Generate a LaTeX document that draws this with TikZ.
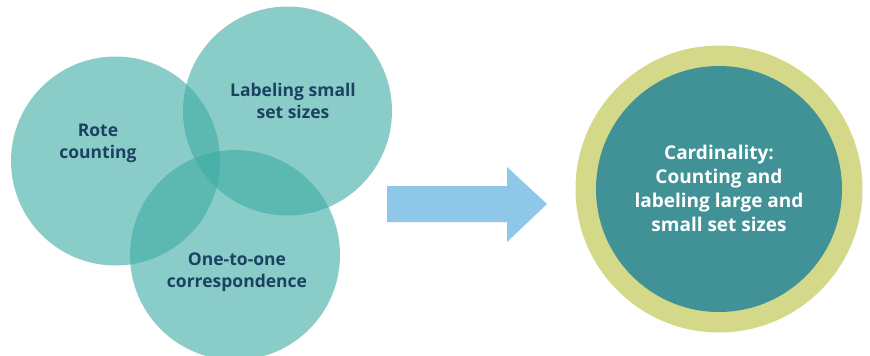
\documentclass[tikz,border=0pt]{standalone}
\usepackage{fontspec}
\setmainfont{Open Sans}
\definecolor{venn}{RGB}{60,172,163}
\definecolor{navy}{RGB}{28,66,98}
\definecolor{ringc}{RGB}{212,217,138}
\definecolor{corec}{RGB}{64,146,150}
\definecolor{arrowc}{RGB}{143,199,232}
\tikzset{
  venncircle/.style={circle, fill=venn, fill opacity=0.6, draw=none, minimum size=#1, inner sep=0pt},
  venntext/.style={text=navy, font=\bfseries\fontsize{17.5}{22}\selectfont, align=center, text opacity=1},
  ringcircle/.style={circle, fill=ringc, draw=none, minimum size=287pt, inner sep=0pt},
  corecircle/.style={circle, fill=corec, draw=none, minimum size=246pt, inner sep=0pt},
  coretext/.style={text=white, font=\bfseries\fontsize{19}{24}\selectfont, align=center},
  bigarrow/.style={fill=arrowc, draw=none}
}
\begin{document}
\begin{tikzpicture}[x=1pt,y=-1pt]
\useasboundingbox (0,0) rectangle (870,356);
\node[venncircle=209pt] (rote) at (115.5,161) {};
\node[venncircle=209pt] (label) at (287.5,111) {};
\node[venncircle=210pt] (one) at (235,255) {};
\node[venntext] (rotet) at (98,143) {Rote\\counting};
\node[venntext] (labelt) at (293,101) {Labeling small\\set sizes};
\node[venntext] (onet) at (237,272) {One-to-one\\correspondence};
\fill[bigarrow] (387,186) -- (507,186) -- (507,167) -- (547,204) -- (507,242) -- (507,222) -- (387,222) -- cycle;
\node[ringcircle] (ring) at (719,189) {};
\node[corecircle] (core) at (719,189) {};
\node[coretext] (coret) at (719,188) {Cardinality:\\Counting and\\labeling large and\\small set sizes};
\end{tikzpicture}
\end{document}
